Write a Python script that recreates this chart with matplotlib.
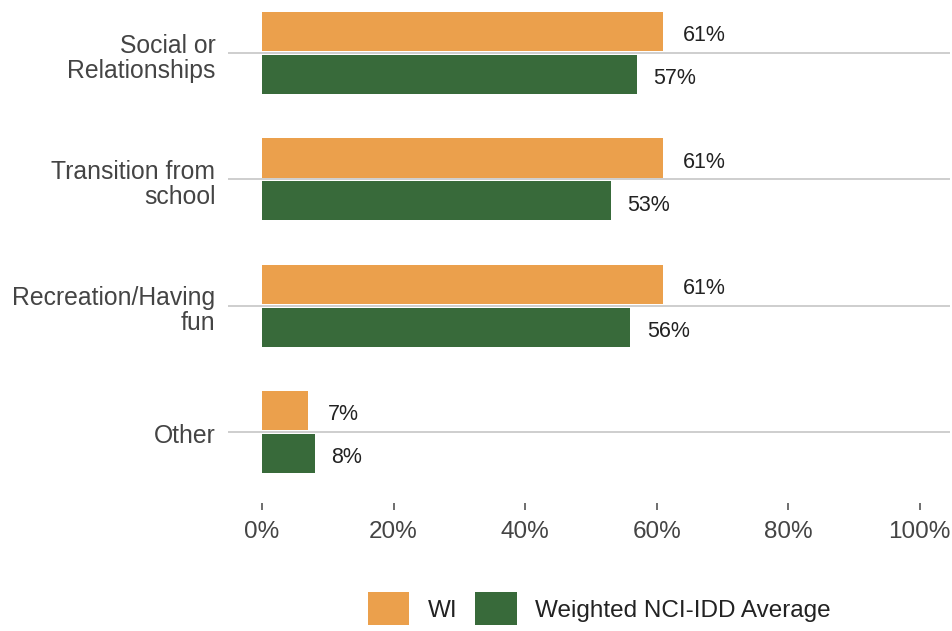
import numpy as np
import matplotlib.pyplot as plt
import matplotlib.transforms as mtransforms
from matplotlib.patches import Patch

plt.rcParams['font.family'] = ['Liberation Sans', 'DejaVu Sans']

categories = ["Social or\nRelationships", "Transition from\nschool", "Recreation/Having\nfun", "Other"]
wi_values = [61, 61, 61, 7]
nci_values = [57, 53, 56, 8]
series_names = ["WI", "Weighted NCI-IDD Average"]
x_ticks = [0, 20, 40, 60, 80, 100]

orange = "#EBA04C"
green = "#386A3A"
grid_col = "#C6C6C6"
text_col = "#444444"

fig = plt.figure(figsize=(9.53, 6.31), dpi=100)
ax = fig.add_axes([0.2392, 0.203, 0.7577, 0.789])

y = np.arange(len(categories))
h = 0.31
off = 0.17

# category separator lines through the middle of each group
for yi in y:
    ax.axhline(yi, color=grid_col, lw=1.2, zorder=1)

ax.barh(y - off, wi_values, height=h, color=orange, zorder=2, label=series_names[0])
ax.barh(y + off, nci_values, height=h, color=green, zorder=2, label=series_names[1])

for yi, v in zip(y, wi_values):
    ax.annotate(f"{v}%", (v, yi - off), xytext=(14, -3), textcoords="offset points",
                va="center", ha="left", fontsize=15.5, color="#222222")
for yi, v in zip(y, nci_values):
    ax.annotate(f"{v}%", (v, yi + off), xytext=(12, -3), textcoords="offset points",
                va="center", ha="left", fontsize=15.5, color="#222222")

ax.set_xlim(-5.17, 104.6)
ax.set_ylim(3.56, -0.38)

ax.set_yticks(y)
ax.set_yticklabels(categories, fontsize=17.8, color=text_col, linespacing=1.05)
ax.tick_params(axis="y", length=0, pad=9)
# two-line labels sit a touch lower in the original
for lab in ax.get_yticklabels():
    dy = -1.5 if "\n" in lab.get_text() else -0.7
    shift = mtransforms.ScaledTranslation(0, dy / 72, fig.dpi_scale_trans)
    lab.set_transform(lab.get_transform() + shift)

ax.set_xticks(x_ticks)
ax.set_xticklabels([f"{t}%" for t in x_ticks], fontsize=17.5, color=text_col)
ax.tick_params(axis="x", length=5, width=1.2, color="#555555", pad=8, direction="out")

for s in ax.spines.values():
    s.set_visible(False)

handles = [Patch(facecolor=orange), Patch(facecolor=green)]
fig.legend(handles, series_names, loc="center", bbox_to_anchor=(0.6286, 0.035), ncol=2,
           frameon=False, fontsize=17.5, handlelength=1.72, handleheight=1.72,
           handletextpad=0.74, columnspacing=0.74, labelcolor="#222222",
           borderpad=0.2)

fig.savefig("out.png", dpi=100)
